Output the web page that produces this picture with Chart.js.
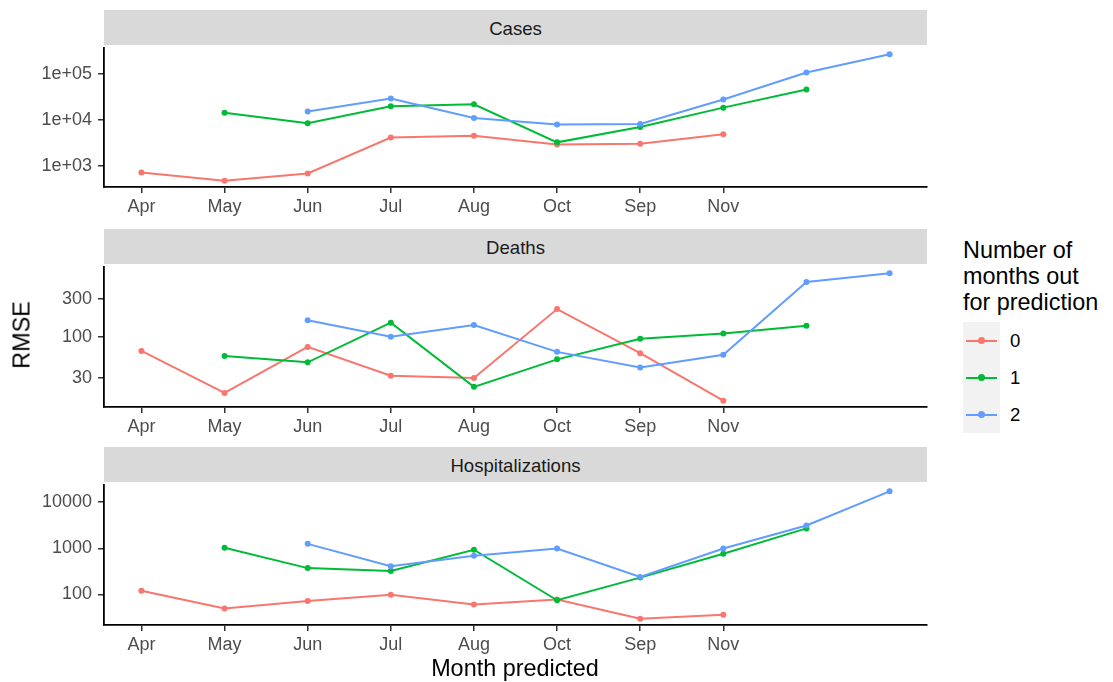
<!DOCTYPE html>
<html>
<head>
<meta charset="utf-8">
<script src="https://cdn.jsdelivr.net/npm/chart.js@4"></script>
<style>
  html, body { margin: 0; padding: 0; background: #fff; }
  #wrap { position: relative; width: 1113px; height: 682px; font-family: 'Liberation Sans', Arial, sans-serif; overflow: hidden; }
  .strip { position: absolute; left: 104px; width: 823px; height: 35px; background: #D9D9D9; color: #1A1A1A; font-size: 18.6px; display: flex; align-items: center; justify-content: center; padding-top: 2px; box-sizing: border-box; }
  canvas.panel { position: absolute; left: 0; }
  #ytitle { position: absolute; left: 22px; top: 335px; transform: translate(-50%, -50%) rotate(-90deg); font-size: 23.4px; color: #000; white-space: nowrap; }
  #xtitle { position: absolute; left: 515px; top: 668px; transform: translate(-50%, -50%); font-size: 23.4px; color: #000; white-space: nowrap; }
  #legend { position: absolute; left: 963px; top: 237px; }
  #legend .title { font-size: 23.4px; line-height: 26px; color: #000; }
  #legend .keys { position: absolute; left: 0; top: 85px; width: 37px; height: 111px; background: #F2F2F2; }
  .key { position: absolute; left: 0; width: 37px; height: 37px; }
  .key .ln { position: absolute; left: 3px; top: 17.5px; width: 31px; height: 2px; }
  .key .pt { position: absolute; left: 15px; top: 15px; width: 7px; height: 7px; border-radius: 50%; }
  .key .lb { position: absolute; left: 47px; top: 0; height: 37px; line-height: 37px; font-size: 18.6px; color: #000; }
</style>
</head>
<body>
<div id="wrap">
  <div class="strip" style="top:10px">Cases</div>
  <div class="strip" style="top:229px">Deaths</div>
  <div class="strip" style="top:447px">Hospitalizations</div>
  <canvas class="panel" id="c0"></canvas>
  <canvas class="panel" id="c1"></canvas>
  <canvas class="panel" id="c2"></canvas>
  <div id="ytitle">RMSE</div>
  <div id="xtitle">Month predicted</div>
  <div id="legend">
    <div class="title">Number of<br>months out<br>for prediction</div>
    <div class="keys" id="keys"></div>
  </div>
</div>
<script>
// Month labels along the x axis (positions 1..8; positions 9 and 10 are unlabeled)
const months = ['Apr', 'May', 'Jun', 'Jul', 'Aug', 'Oct', 'Sep', 'Nov'];
const horizons = ['0', '1', '2'];
const colors = ['#F8766D', '#00BA38', '#619CFF'];

// RMSE by forecast horizon, one value per x position (1..10)
const casesH0 = [723, 482, 689, 4170, 4520, 2920, 3060, 4900, null, null];
const casesH1 = [null, 14300, 8510, 19800, 21800, 3270, 7000, 18500, 45900, null];
const casesH2 = [null, null, 15300, 29200, 11000, 7960, 8220, 27800, 107000, 265000];

const deathsH0 = [66.4, 19.5, 74.5, 32.2, 30.1, 224, 62.1, 15.6, null, null];
const deathsH1 = [null, 57.0, 47.6, 151, 23.3, 51.9, 94.4, 110, 138, null];
const deathsH2 = [null, null, 162, 100, 141, 64.5, 40.9, 59.3, 494, 634];

const hospH0 = [120, 49.4, 72.1, 98.4, 60.1, 77, 29.7, 36.2, null, null];
const hospH1 = [null, 1026, 371, 320, 929, 74.5, 231, 763, 2700, null];
const hospH2 = [null, null, 1248, 409, 692, 991, 238, 991, 3125, 17200];

// y tick values and their labels per panel
const casesTicks = [1e3, 1e4, 1e5];
const casesTickLabels = ['1e+03', '1e+04', '1e+05'];
const deathsTicks = [30, 100, 300];
const deathsTickLabels = ['30', '100', '300'];
const hospTicks = [100, 1000, 10000];
const hospTickLabels = ['100', '1000', '10000'];

const FONT = "'Liberation Sans', Arial, sans-serif";

const panels = [
  { id: 'c0', top: 45,  h: 142, series: [casesH0, casesH1, casesH2],   ticks: casesTicks,  labels: casesTickLabels },
  { id: 'c1', top: 264, h: 143, series: [deathsH0, deathsH1, deathsH2], ticks: deathsTicks, labels: deathsTickLabels },
  { id: 'c2', top: 482, h: 143, series: [hospH0, hospH1, hospH2],       ticks: hospTicks,   labels: hospTickLabels }
];

const X_AXIS_H = 40;
const Y_AXIS_W = 104;
const CANVAS_W = 940;

function logRange(seriesList) {
  const vals = seriesList.flat().filter(v => v !== null);
  const lo = Math.log10(Math.min(...vals));
  const hi = Math.log10(Math.max(...vals));
  const pad = 0.05 * (hi - lo);
  return [Math.pow(10, lo - pad), Math.pow(10, hi + pad)];
}

panels.forEach(p => {
  const cv = document.getElementById(p.id);
  cv.width = CANVAS_W;
  cv.height = p.h + X_AXIS_H;
  cv.style.top = p.top + 'px';
  const [ymin, ymax] = logRange(p.series);

  new Chart(cv, {
    type: 'line',
    data: {
      datasets: p.series.map((vals, k) => ({
        label: horizons[k],
        data: vals.map((v, i) => ({ x: i + 1, y: v })),
        borderColor: colors[k],
        backgroundColor: colors[k],
        borderWidth: 2,
        pointRadius: 3,
        pointBorderWidth: 0,
        pointHoverRadius: 3,
        tension: 0,
        spanGaps: false,
        order: 2 - k
      }))
    },
    options: {
      responsive: false,
      animation: false,
      events: [],
      layout: { padding: { left: 0, right: CANVAS_W - 927, top: 0, bottom: 0 } },
      plugins: { legend: { display: false }, tooltip: { enabled: false } },
      scales: {
        x: {
          type: 'linear',
          min: 0.55,
          max: 10.45,
          afterBuildTicks: s => { s.ticks = months.map((m, i) => ({ value: i + 1 })); },
          afterFit: s => { s.height = X_AXIS_H; s.paddingLeft = 0; s.paddingRight = 0; },
          ticks: {
            autoSkip: false,
            maxRotation: 0,
            padding: 3,
            color: '#4D4D4D',
            font: { family: FONT, size: 18 },
            callback: v => months[Math.round(v) - 1] || ''
          },
          grid: { display: true, drawOnChartArea: false, drawTicks: true, tickLength: 6, color: '#333333', lineWidth: 1.5 },
          border: { display: true, color: '#000000', width: 1.8 }
        },
        y: {
          type: 'logarithmic',
          min: ymin,
          max: ymax,
          afterBuildTicks: s => { s.ticks = p.ticks.map(v => ({ value: v })); },
          afterFit: s => { s.width = Y_AXIS_W; s.paddingTop = 0; s.paddingBottom = 0; },
          ticks: {
            autoSkip: false,
            padding: 6,
            color: '#4D4D4D',
            font: { family: FONT, size: 18 },
            callback: v => { const i = p.ticks.indexOf(v); return i >= 0 ? p.labels[i] : ''; }
          },
          grid: { display: true, drawOnChartArea: false, drawTicks: true, tickLength: 6, color: '#333333', lineWidth: 1.5 },
          border: { display: true, color: '#000000', width: 1.8 }
        }
      }
    }
  });
});

// legend keys
const keys = document.getElementById('keys');
horizons.forEach((h, k) => {
  const d = document.createElement('div');
  d.className = 'key';
  d.style.top = (k * 37) + 'px';
  d.innerHTML = '<div class="ln" style="background:' + colors[k] + '"></div>' +
                '<div class="pt" style="background:' + colors[k] + '"></div>' +
                '<div class="lb">' + h + '</div>';
  keys.appendChild(d);
});
</script>
</body>
</html>
